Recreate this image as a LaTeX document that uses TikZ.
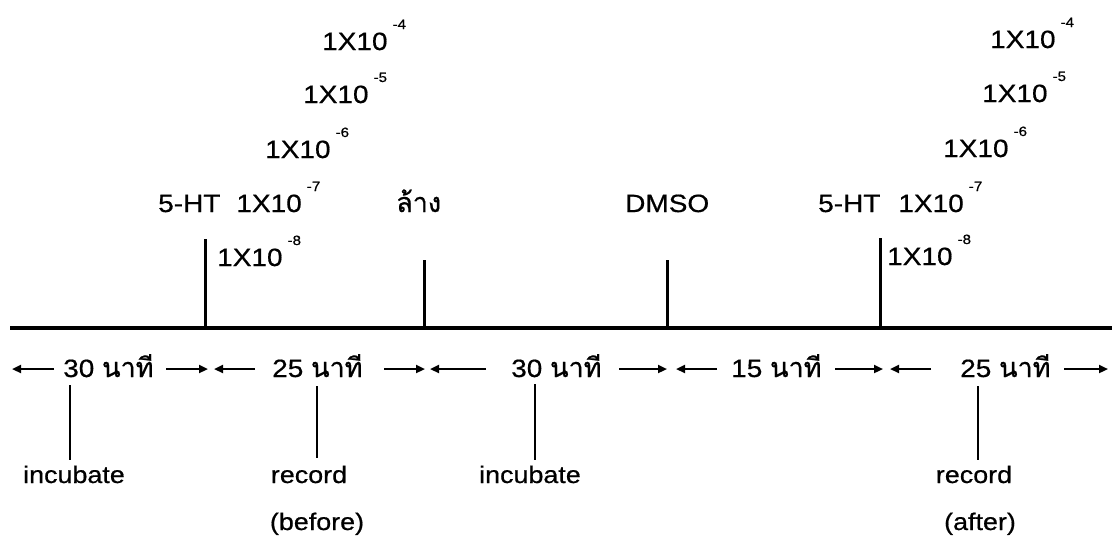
\documentclass[tikz,border=0pt]{standalone}
\usepackage{fontspec}
\setmainfont{Liberation Sans}[FakeStretch=1.12, FakeBold=0.6]
\newfontfamily\thaifont[Script=Thai, FakeBold=0.8]{Loma}
\usetikzlibrary{arrows.meta}
\newcommand{\ex}[1]{\hspace{5pt}\raisebox{21pt}{\fontsize{13.5}{13.5}\selectfont #1}}
\newcommand{\nt}{\thaifont\fontsize{27}{30}\selectfont นาที}
\tikzset{
  lbl/.style={inner sep=0pt, anchor=base west, font=\fontsize{25}{30}\selectfont},
  lblc/.style={inner sep=0pt, anchor=base, font=\fontsize{24}{30}\selectfont},
  mainline/.style={line width=3.5pt},
  tick/.style={line width=3pt},
  btick/.style={line width=2.5pt},
  arr/.style={line width=2.2pt, -{Triangle[length=9pt,width=8pt]}},
}
\begin{document}
\begin{tikzpicture}[x=1pt,y=-1pt]
\useasboundingbox (0,0) rectangle (1120,539);
% main line
\coordinate (L) at (10,328);
\coordinate (R) at (1112,328);
\draw[mainline] (L) -- (R);
% top labels left
\node[lbl] (a4) at (322,50) {1X10\ex{-4}};
\node[lbl] (a5) at (303,103) {1X10\ex{-5}};
\node[lbl] (a6) at (265,158) {1X10\ex{-6}};
\node[lbl] (a7) at (158,212) {5-HT\hspace{16pt}1X10\ex{-7}};
\node[lbl] (a8) at (217,266) {1X10\ex{-8}};
\node[lbl] (wash) at (396,212) {\thaifont\fontsize{27}{30}\selectfont ล้าง};
\node[lbl] (dmso) at (625,212) {DMSO};
% top labels right
\node[lbl] (b4) at (990,48) {1X10\ex{-4}};
\node[lbl] (b5) at (982,102) {1X10\ex{-5}};
\node[lbl] (b6) at (943,157) {1X10\ex{-6}};
\node[lbl] (b7) at (818,212) {5-HT\hspace{18pt}1X10\ex{-7}};
\node[lbl] (b8) at (887,265) {1X10\ex{-8}};
% top ticks
\coordinate (k1t) at (205,239); \coordinate (k1b) at (205,326);
\coordinate (k2t) at (424,260); \coordinate (k2b) at (424,326);
\coordinate (k3t) at (667,260); \coordinate (k3b) at (667,326);
\coordinate (k4t) at (880,238); \coordinate (k4b) at (880,326);
\draw[tick] (k1t) -- (k1b);
\draw[tick] (k2t) -- (k2b);
\draw[tick] (k3t) -- (k3b);
\draw[tick] (k4t) -- (k4b);
% duration row
\node[lbl] (t1) at (63,377) {30 \nt};
\node[lbl] (t2) at (272,377) {25 \nt};
\node[lbl] (t3) at (511,377) {30 \nt};
\node[lbl] (t4) at (731,377) {15 \nt};
\node[lbl] (t5) at (960,377) {25 \nt};
\coordinate (p0a) at (54,369);   \coordinate (p0b) at (12,369);
\coordinate (p1a) at (166,369);  \coordinate (p1b) at (208,369);
\coordinate (p2a) at (255,369);  \coordinate (p2b) at (214,369);
\coordinate (p3a) at (384,369);  \coordinate (p3b) at (425,369);
\coordinate (p4a) at (486,369);  \coordinate (p4b) at (430,369);
\coordinate (p5a) at (619,369);  \coordinate (p5b) at (667,369);
\coordinate (p6a) at (717,369);  \coordinate (p6b) at (676,369);
\coordinate (p7a) at (835,369);  \coordinate (p7b) at (883,369);
\coordinate (p8a) at (931,369);  \coordinate (p8b) at (890,369);
\coordinate (p9a) at (1064,369); \coordinate (p9b) at (1108,369);
\foreach \i in {0,...,9} \draw[arr] (p\i a) -- (p\i b);
% bottom labels
\node[lblc] (inc1) at (74,483) {incubate};
\node[lblc] (rec1) at (309,483) {record};
\node[lblc] (bef) at (317,530) {(before)};
\node[lblc] (inc2) at (530,483) {incubate};
\node[lblc] (rec2) at (974,483) {record};
\node[lblc] (aft) at (980,530) {(after)};
% bottom ticks
\coordinate (m1t) at (70,385);  \coordinate (m1b) at (70,460);
\coordinate (m2t) at (317,386); \coordinate (m2b) at (317,458);
\coordinate (m3t) at (535,384); \coordinate (m3b) at (535,460);
\coordinate (m4t) at (978,386); \coordinate (m4b) at (978,460);
\draw[btick] (m1t) -- (m1b);
\draw[btick] (m2t) -- (m2b);
\draw[btick] (m3t) -- (m3b);
\draw[btick] (m4t) -- (m4b);
\end{tikzpicture}
\end{document}
